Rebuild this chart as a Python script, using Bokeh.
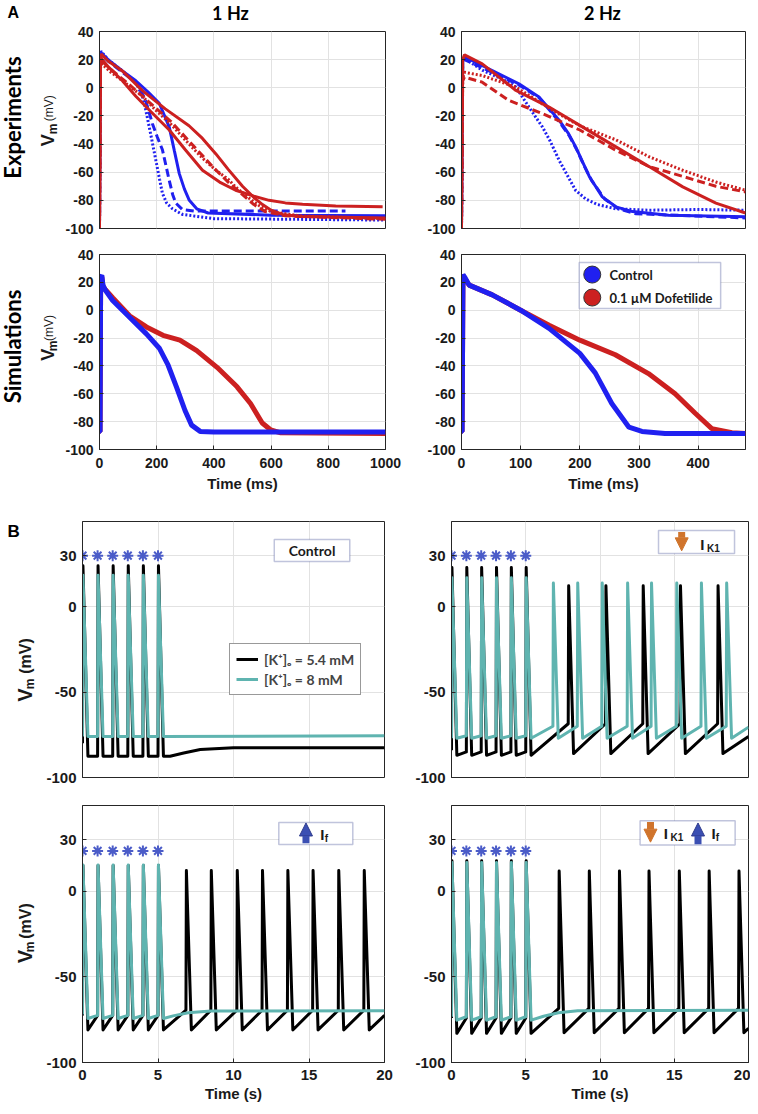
import math
from bokeh.plotting import figure
from bokeh.layouts import column, row
from bokeh.models import (Range1d, FixedTicker, Label, BoxAnnotation, Arrow,
                          NormalHead, Legend, LegendItem)
from bokeh.embed import file_html
from bokeh.resources import INLINE

# ---------------- colours ----------------
BLUE = "#2020f0"
RED = "#cc2020"
TEAL = "#5fb4b0"
BLACK = "#000000"
STAR = "#4b5cc8"
NAVY = "#2e3a8c"
ORANGE = "#d0742c"
ARROWBLUE = "#3b4fb3"

# ---------------- Panel A data (time in ms, Vm in mV) ----------------
# Experiments, 1 Hz
e1_blue_dot_t = [0, 3, 5, 30, 80, 127, 150, 162, 180, 197, 210, 220, 235, 255, 290, 400, 1000]
e1_blue_dot_v = [-100, 20, 26, 20, 12, 4, -6, -16, -34, -51.5, -65, -75, -82, -86, -90, -93, -94]
e1_blue_dash_t = [0, 3, 5, 30, 80, 127, 160, 185, 202, 220, 232, 244, 256, 267, 290, 330, 500, 860]
e1_blue_dash_v = [-100, 18, 24, 19, 11, 4, -8, -25.5, -35, -44, -55, -66, -76, -82, -86.5, -87.5, -87.5, -87.5]
e1_blue_sol_t = [0, 3, 5, 30, 80, 127, 170, 209, 244, 262, 279, 297, 314, 340, 380, 600, 1000]
e1_blue_sol_v = [-100, 20, 25, 20, 12, 5, -3, -11, -28, -45, -61, -72, -80, -86, -89, -90.5, -91]
e1_red_solA_t = [0, 3, 6, 30, 80, 150, 230, 313, 360, 407, 450, 500, 540, 570, 600, 640, 700, 1000]
e1_red_solA_v = [-100, 18, 24, 19, 12, -2, -15, -27, -36, -47, -58, -70, -78, -83, -87, -90, -91.5, -92.5]
e1_red_solB_t = [0, 3, 6, 30, 80, 127, 180, 244, 300, 360, 420, 476, 540, 593, 650, 710, 826, 990]
e1_red_solB_v = [-100, 16, 21, 15, 5, -6, -17, -30, -44, -58.6, -67, -72.8, -77, -80, -81.8, -82.7, -84, -84.6]
e1_red_dot_t = [0, 3, 8, 40, 100, 150, 197, 250, 313, 360, 407, 450, 476, 520, 560, 600, 700, 1000]
e1_red_dot_v = [-100, 14, 17, 11, 2, -6, -16, -26, -40, -50, -58.6, -65, -70.5, -78, -84, -88, -91, -93]
e1_red_dash_t = [0, 3, 8, 40, 100, 150, 200, 250, 300, 350, 400, 450, 500, 540, 580, 650, 1000]
e1_red_dash_v = [-100, 15, 19, 13, 3, -6, -15, -24, -35, -46, -57, -67, -76, -83, -88, -91, -93.5]

# Experiments, 2 Hz
e2_blue_dot_t = [0, 2, 5, 35, 70, 92, 114, 137, 150, 165, 180, 193, 210, 230, 261, 317, 400, 480]
e2_blue_dot_v = [-100, 18, 21, 12.5, 6, 0.5, -13.7, -28, -38, -51.5, -63, -73, -79, -83, -86, -87, -86.5, -87]
e2_blue_sol_t = [0, 2, 5, 52, 97, 131, 165, 180, 193, 205, 216, 238, 261, 289, 350, 480]
e2_blue_sol_v = [-100, 19, 22, 12.3, 2.8, -6.6, -23, -32, -42, -53, -63, -77.5, -84.6, -88, -90.5, -91.7]
e2_blue_dash_t = [0, 2, 5, 52, 97, 131, 165, 182, 196, 208, 220, 242, 265, 295, 480]
e2_blue_dash_v = [-100, 17, 20, 11, 2, -7, -24, -34, -45, -56, -66, -79, -86, -89.5, -92.5]
e2_red_sol_t = [0, 2, 5, 35, 92, 148, 200, 261, 317, 374, 430, 480]
e2_red_sol_v = [-100, 20, 23.4, 17, -1.9, -13.7, -26.7, -42, -56, -70.4, -82, -89]
e2_red_dot_t = [0, 2, 5, 35, 92, 150, 200, 261, 317, 374, 430, 480]
e2_red_dot_v = [-100, 8, 11, 8.7, 0.5, -15, -27, -37, -49, -58.6, -67, -72.8]
e2_red_dash_t = [0, 2, 5, 35, 80, 137, 200, 261, 317, 374, 430, 480]
e2_red_dash_v = [-100, 5, 7.6, 4, -9, -18.4, -30, -44.4, -56, -63, -70, -74]

# Simulations, 1 Hz
s1_ctrl_t = [0, 2, 4, 8, 12, 20, 46, 105, 164, 210, 240, 269, 299, 322, 352, 400, 1000]
s1_ctrl_v = [-87, -87, 24, 25, 18, 14.5, 7, -5, -17, -27.5, -39.5, -55, -72, -82.5, -87, -87.5, -87.5]
s1_dof_t = [0, 2, 4, 8, 12, 20, 46, 105, 164, 222, 281, 340, 411, 481, 528, 569, 599, 634, 1000]
s1_dof_v = [-87, -87, 23, 24, 17, 15, 9, -4, -12, -18, -21.5, -29, -41, -55, -67, -81, -86, -88, -88.5]

# Simulations, 2 Hz
s2_ctrl_t = [0, 1, 2.5, 5, 13, 52, 100, 148, 200, 226, 254, 283, 305, 344, 480]
s2_ctrl_v = [-87, -87, 25.6, 24, 18, 11, 0, -13, -31, -45, -67, -84, -87, -88.5, -88.5]
s2_dof_t = [0, 1, 2.5, 5, 13, 52, 100, 148, 200, 260, 316, 361, 395, 423, 457, 480]
s2_dof_v = [-87, -87, 25, 23, 18, 11, 0, -10.8, -21.5, -32, -45.5, -60, -74, -85, -88, -88.5]

legend_a_labels = ["Control", "0.1 µM Dofetilide"]

# ---------------- Panel B data (time in s, Vm in mV) ----------------
paced_t = [0, 1, 2, 3, 4, 5]

# Control
b1_k54_spk = [0, 1, 2, 3, 4, 5]
b1_k54_peak = [24, 24, 24, 24, 24, 24]
b1_k54_trough = [-87.5, -87.5, -87.5, -87.5, -87.5, -87.5]
b1_k54_pre = [-80, -87.5, -87.5, -87.5, -87.5, -87.5]
b1_k54_tail_t = [5.8, 6.7, 7.8, 10, 20]
b1_k54_tail_v = [-87.5, -85.6, -83.6, -82.6, -82.5]
b1_k8_spk = [0, 1, 2, 3, 4, 5]
b1_k8_peak = [18.5, 18.5, 18.5, 18.5, 18.5, 18.5]
b1_k8_trough = [-76, -76, -76, -76, -76, -76]
b1_k8_pre = [-76, -76, -76, -76, -76, -76]
b1_k8_tail_t = [20]
b1_k8_tail_v = [-75.5]

# down IK1
b2_k54_spk = [0, 1, 2, 3, 4, 5, 7.86, 10.37, 12.88, 15.39, 17.92]
b2_k54_peak = [23, 23, 23, 23, 23, 23, 12.4, 12.4, 12.4, 12.4, 12.4]
b2_k54_trough = [-87, -87, -87, -87, -87, -87, -86, -86, -86, -86, -86]
b2_k54_pre = [-84, -85, -85, -85, -85, -85, -68.5, -68.5, -68.5, -68.5, -68.5]
b2_k54_tail_t = [20]
b2_k54_tail_v = [-76]
b2_k8_spk = [0, 1, 2, 3, 4, 5, 6.83, 8.47, 10.12, 11.83, 13.44, 15.14, 16.8, 18.5]
b2_k8_peak = [17, 17, 17, 17, 17, 17, 14, 14, 14, 14, 14, 14, 14, 14]
b2_k8_trough = [-77, -77, -77, -77, -77, -77, -77, -77, -77, -77, -77, -77, -77, -77]
b2_k8_pre = [-77, -75.5, -75.5, -75.5, -75.5, -75.5, -70, -70, -70, -70, -70, -70, -70, -70]
b2_k8_tail_t = [20]
b2_k8_tail_v = [-70.5]

# up If
b3_k54_spk = [0, 1, 2, 3, 4, 5, 6.85, 8.5, 10.22, 11.89, 13.57, 15.24, 16.94, 18.63]
b3_k54_peak = [15, 15, 15, 15, 15, 15, 12, 12, 12, 12, 12, 12, 12, 12]
b3_k54_trough = [-81, -81, -81, -81, -81, -81, -81, -81, -81, -81, -81, -81, -81, -81]
b3_k54_pre = [-72.5, -72.5, -72.5, -72.5, -72.5, -72.5, -69.5, -69.5, -69.5, -69.5, -69.5, -69.5, -69.5, -69.5]
b3_k54_tail_t = [20]
b3_k54_tail_v = [-72.5]
b3_k8_spk = [0, 1, 2, 3, 4, 5]
b3_k8_peak = [15.2, 15.2, 15.2, 15.2, 15.2, 15.2]
b3_k8_trough = [-74.3, -74.3, -74.3, -74.3, -74.3, -74.3]
b3_k8_pre = [-72, -72.5, -72.5, -72.5, -72.5, -72.5]
b3_k8_tail_t = [6.0, 7.0, 8.5, 20]
b3_k8_tail_v = [-72.8, -71, -70, -69.8]

# down IK1 + up If
b4_k54_spk = [0, 1, 2, 3, 4, 5, 7.22, 9.25, 11.28, 13.27, 15.31, 17.32, 19.33]
b4_k54_peak = [17.7, 17.7, 17.7, 17.7, 17.7, 17.7, 11.8, 11.8, 11.8, 11.8, 11.8, 11.8, 11.8]
b4_k54_trough = [-83, -83, -83, -83, -83, -83, -82.6, -82.6, -82.6, -82.6, -82.6, -82.6, -82.6]
b4_k54_pre = [-74, -74, -74, -74, -74, -74, -68.4, -68.4, -68.4, -68.4, -68.4, -68.4, -68.4]
b4_k54_tail_t = [20]
b4_k54_tail_v = [-80]
b4_k8_spk = [0, 1, 2, 3, 4, 5]
b4_k8_peak = [16.7, 16.7, 16.7, 16.7, 16.7, 16.7]
b4_k8_trough = [-75.3, -75.3, -75.3, -75.3, -75.3, -75.3]
b4_k8_pre = [-73.3, -73.3, -73.3, -73.3, -73.3, -73.3]
b4_k8_tail_t = [6.2, 7.2, 8.5, 20]
b4_k8_tail_v = [-73, -71, -69.8, -69.5]

legend_b_labels = ["[K⁺]ₒ = 5.4 mM", "[K⁺]ₒ = 8 mM"]

TICK_FONT = "Liberation Sans"
TEXT_FONT = "Lato"
UP = math.pi / 2


def spike_train(st, pk, tr, pre, tail_t, tail_v):
    xs, ys = [], []
    for a, b, c, d in zip(st, pk, tr, pre):
        xs += [a, a + 0.03, a + 0.36]
        ys += [d, b, c]
    return xs + list(tail_t), ys + list(tail_v)


def base_fig(xr, yr, xticks, yticks, fw, fh, bl, br, bt, bb, tick_px, xlabels):
    p = figure(frame_width=fw, frame_height=fh, x_range=Range1d(*xr), y_range=Range1d(*yr),
               output_backend="svg", toolbar_location=None, title=None,
               min_border_left=bl, min_border_right=br, min_border_top=bt, min_border_bottom=bb)
    p.xaxis.ticker = FixedTicker(ticks=xticks)
    p.yaxis.ticker = FixedTicker(ticks=yticks)
    p.xgrid.ticker = FixedTicker(ticks=xticks)
    p.ygrid.ticker = FixedTicker(ticks=yticks)
    for ax in list(p.xaxis) + list(p.yaxis):
        ax.major_tick_in = 4
        ax.major_tick_out = 0
        ax.minor_tick_line_color = None
        ax.axis_line_color = "#262626"
        ax.major_tick_line_color = "#262626"
        ax.major_label_text_font = TICK_FONT
        ax.major_label_text_font_style = "bold"
        ax.major_label_text_font_size = tick_px
        ax.major_label_text_color = "#1a1a1a"
    p.yaxis.major_label_standoff = 6
    p.yaxis.major_label_overrides = {t: str(t) for t in yticks}
    p.xaxis.major_label_overrides = {t: str(t) for t in xticks}
    if xlabels:
        p.xaxis.major_label_standoff = 8
    else:
        p.xaxis.visible = False
    p.outline_line_color = "#262626"
    p.outline_line_width = 1
    p.xgrid.grid_line_color = "#e2e2e2"
    p.ygrid.grid_line_color = "#e2e2e2"
    p.background_fill_color = "white"
    p.border_fill_color = "white"
    return p


def text_fig(w, h):
    """A bare canvas whose data units are pixels (y measured upward)."""
    p = figure(width=w, height=h, x_range=Range1d(0, w), y_range=Range1d(0, h),
               output_backend="svg", toolbar_location=None, min_border=0, title=None,
               x_axis_type=None, y_axis_type=None)
    p.outline_line_color = None
    p.background_fill_color = "white"
    p.border_fill_color = "white"
    return p


def dlabel(p, text, x, y, size, font=TEXT_FONT, style="bold", align="left",
           color="#1a1a1a", angle=0.0):
    p.add_layout(Label(x=x, y=y, text=text, text_font=font, text_font_size=size,
                       text_font_style=style, text_align=align, text_baseline="middle",
                       text_color=color, angle=angle))


def vm_label_a(g, y_v, y_m, y_p):
    dlabel(g, "V", 47, y_v, "18px", font=TICK_FONT, angle=UP)
    dlabel(g, "m", 52.5, y_m, "12px", font=TICK_FONT, angle=UP)
    dlabel(g, "(mV)", 48, y_p, "12px", font=TICK_FONT, style="normal", angle=UP)


def vm_label_b(g, y_v, y_m, y_p):
    dlabel(g, "V", 24.5, y_v, "20px", font=TICK_FONT, angle=UP)
    dlabel(g, "m", 29, y_m, "12px", font=TICK_FONT, angle=UP)
    dlabel(g, "(mV)", 25, y_p, "16px", font=TICK_FONT, angle=UP)


A_Y = [-100, -80, -60, -40, -20, 0, 20, 40]
A_X1 = [0, 200, 400, 600, 800, 1000]
A_X2 = [0, 100, 200, 300, 400]
B_Y = [-100, -50, 0, 30]
B_X = [0, 5, 10, 15, 20]

# ---------------- header of panel A ----------------
hdr = text_fig(750, 23)
dlabel(hdr, "A", 7, 11, "16px", font=TICK_FONT, color="#000000")
dlabel(hdr, "1 Hz", 230, 11, "18px", align="center", color="#000000")
dlabel(hdr, "2 Hz", 602, 11, "18px", align="center", color="#000000")

# ---------------- Row 1: experiments ----------------
g1 = text_fig(62, 213)
dlabel(g1, "Experiments", 11.5, 120, "22px", align="center", color="#000000", angle=UP)
vm_label_a(g1, 89, 102, 116)

pa1 = base_fig((0, 1000), (-100, 40), A_X1, A_Y, 286, 197, 35, 22, 8, 8, "14px", False)
pa1.line(e1_blue_dot_t, e1_blue_dot_v, color=BLUE, line_width=3, line_dash="2 2")
pa1.line(e1_blue_dash_t, e1_blue_dash_v, color=BLUE, line_width=3, line_dash="8 4")
pa1.line(e1_blue_sol_t, e1_blue_sol_v, color=BLUE, line_width=3)
pa1.line(e1_red_dot_t, e1_red_dot_v, color=RED, line_width=3, line_dash="2 2")
pa1.line(e1_red_dash_t, e1_red_dash_v, color=RED, line_width=3, line_dash="8 4")
pa1.line(e1_red_solB_t, e1_red_solB_v, color=RED, line_width=3)
pa1.line(e1_red_solA_t, e1_red_solA_v, color=RED, line_width=3)

pa2 = base_fig((0, 480), (-100, 40), A_X2, A_Y, 284, 197, 54, 7, 8, 8, "14px", False)
pa2.line(e2_blue_dot_t, e2_blue_dot_v, color=BLUE, line_width=3, line_dash="2 2")
pa2.line(e2_blue_dash_t, e2_blue_dash_v, color=BLUE, line_width=3, line_dash="8 4")
pa2.line(e2_blue_sol_t, e2_blue_sol_v, color=BLUE, line_width=3)
pa2.line(e2_red_dot_t, e2_red_dot_v, color=RED, line_width=3, line_dash="2 2")
pa2.line(e2_red_dash_t, e2_red_dash_v, color=RED, line_width=3, line_dash="8 4")
pa2.line(e2_red_sol_t, e2_red_sol_v, color=RED, line_width=3)

# ---------------- Row 2: simulations ----------------
g2 = text_fig(62, 264)
dlabel(g2, "Simulations", 11.5, 139.5, "22px", align="center", color="#000000", angle=UP)
vm_label_a(g2, 120, 133, 147)

pa3 = base_fig((0, 1000), (-100, 40), A_X1, A_Y, 286, 195, 35, 22, 18, 51, "14px", True)
pa3.line(s1_dof_t, s1_dof_v, color=RED, line_width=5)
pa3.line(s1_ctrl_t, s1_ctrl_v, color=BLUE, line_width=5)

pa4 = base_fig((0, 480), (-100, 40), A_X2, A_Y, 284, 195, 54, 7, 18, 51, "14px", True)
pa4.line(s2_dof_t, s2_dof_v, color=RED, line_width=5)
pa4.line(s2_ctrl_t, s2_ctrl_v, color=BLUE, line_width=5)
# legend (framed box with round markers)
pa4.add_layout(BoxAnnotation(left=199, right=438, bottom=1.2, top=34.3, fill_color="white",
                             fill_alpha=1, line_color=NAVY, line_width=1.5, level="underlay"))
pa4.scatter([221, 221], [25.6, 9.1], size=17, fill_color=[BLUE, RED], line_color="#333333",
            line_width=1)
dlabel(pa4, legend_a_labels[0], 250, 25.6, "13px")
dlabel(pa4, legend_a_labels[1], 250, 9.1, "13px")

for p in (pa3, pa4):
    p.xaxis.axis_label = "Time (ms)"
    p.xaxis.axis_label_text_font = TICK_FONT
    p.xaxis.axis_label_text_font_style = "bold"
    p.xaxis.axis_label_text_font_size = "15px"
    p.xaxis.axis_label_standoff = 4
    p.xaxis.axis_label_text_color = "#1a1a1a"


# ---------------- Panel B ----------------
def b_fig(left, bt, bb, fh, xlabels):
    if left:
        return base_fig((0, 20), (-100, 50), B_X, B_Y, 302, fh, 40, 16, bt, bb, "15px", xlabels)
    return base_fig((0, 20), (-100, 50), B_X, B_Y, 297, fh, 51, 2, bt, bb, "15px", xlabels)


def draw_traces(p, k54, k8, star_v):
    x, y = spike_train(*k54)
    r1 = p.line(x, y, color=BLACK, line_width=3, line_join="round")
    x, y = spike_train(*k8)
    r2 = p.line(x, y, color=TEAL, line_width=3, line_join="round")
    p.scatter(paced_t, [star_v] * len(paced_t), marker="asterisk", size=11,
              line_color=STAR, line_width=2)
    return r1, r2


def info_box(p, l, r, b, t):
    p.add_layout(BoxAnnotation(left=l, right=r, bottom=b, top=t, fill_color="white",
                               fill_alpha=1, line_color=NAVY, line_width=1.5, level="underlay"))


def arrow(p, x, y0, y1, color, edge):
    p.add_layout(Arrow(end=NormalHead(size=13, fill_color=color, line_color=edge, line_width=1),
                       x_start=x, y_start=y0, x_end=x, y_end=y1, line_color=color,
                       line_width=7))


g3 = text_fig(42, 284)
dlabel(g3, "B", 7, 272.5, "17px", font=TICK_FONT, color="#000000")
vm_label_b(g3, 84, 98, 115)

pb1 = b_fig(True, 21, 7, 256, False)
rb, rc = draw_traces(pb1, (b1_k54_spk, b1_k54_peak, b1_k54_trough, b1_k54_pre, b1_k54_tail_t, b1_k54_tail_v),
                     (b1_k8_spk, b1_k8_peak, b1_k8_trough, b1_k8_pre, b1_k8_tail_t, b1_k8_tail_v), 30)
info_box(pb1, 12.7, 17.7, 26.5, 39.4)
dlabel(pb1, "Control", 15.2, 33, "14px", align="center")
leg = Legend(items=[LegendItem(label=legend_b_labels[0], renderers=[rb]),
                    LegendItem(label=legend_b_labels[1], renderers=[rc])],
             location=(147, 82), margin=0, padding=6, spacing=2,
             label_text_font=TEXT_FONT, label_text_font_style="bold", label_text_font_size="14px",
             label_height=18, glyph_height=18, glyph_width=22, label_standoff=6,
             border_line_color="#333333", border_line_width=1, background_fill_alpha=1)
pb1.add_layout(leg)

pb2 = b_fig(False, 21, 7, 256, False)
draw_traces(pb2, (b2_k54_spk, b2_k54_peak, b2_k54_trough, b2_k54_pre, b2_k54_tail_t, b2_k54_tail_v),
            (b2_k8_spk, b2_k8_peak, b2_k8_trough, b2_k8_pre, b2_k8_tail_t, b2_k8_tail_v), 30)
info_box(pb2, 13.94, 19.06, 31.3, 44.7)
arrow(pb2, 15.5, 43.8, 32.8, ORANGE, ORANGE)
dlabel(pb2, "I", 16.75, 36.8, "15px", font=TICK_FONT)
dlabel(pb2, "K1", 17.2, 34.2, "10px", font=TICK_FONT)

g4 = text_fig(42, 326)
vm_label_b(g4, 126, 140, 157)

pb3 = b_fig(True, 21, 48, 257, True)
draw_traces(pb3, (b3_k54_spk, b3_k54_peak, b3_k54_trough, b3_k54_pre, b3_k54_tail_t, b3_k54_tail_v),
            (b3_k8_spk, b3_k8_peak, b3_k8_trough, b3_k8_pre, b3_k8_tail_t, b3_k8_tail_v), 23.5)
info_box(pb3, 13.0, 17.9, 27.3, 40.1)
arrow(pb3, 14.8, 27.9, 39.8, ARROWBLUE, NAVY)
dlabel(pb3, "I", 15.75, 33.3, "15px", font=TICK_FONT)
dlabel(pb3, "f", 16.05, 30.6, "10px", font=TICK_FONT)

pb4 = b_fig(False, 21, 48, 257, True)
draw_traces(pb4, (b4_k54_spk, b4_k54_peak, b4_k54_trough, b4_k54_pre, b4_k54_tail_t, b4_k54_tail_v),
            (b4_k8_spk, b4_k8_peak, b4_k8_trough, b4_k8_pre, b4_k8_tail_t, b4_k8_tail_v), 23.5)
info_box(pb4, 12.7, 19.1, 26.9, 41.1)
arrow(pb4, 13.4, 40.4, 28.6, ORANGE, ORANGE)
dlabel(pb4, "I", 14.3, 33.6, "15px", font=TICK_FONT)
dlabel(pb4, "K1", 14.75, 31.2, "10px", font=TICK_FONT)
arrow(pb4, 16.6, 27.4, 39.8, ARROWBLUE, NAVY)
dlabel(pb4, "I", 17.5, 33.6, "15px", font=TICK_FONT)
dlabel(pb4, "f", 17.8, 31.2, "10px", font=TICK_FONT)

for p in (pb3, pb4):
    p.xaxis.axis_label = "Time (s)"
    p.xaxis.axis_label_text_font = TICK_FONT
    p.xaxis.axis_label_text_font_style = "bold"
    p.xaxis.axis_label_text_font_size = "15px"
    p.xaxis.axis_label_standoff = 2
    p.xaxis.major_label_standoff = 7
    p.xaxis.axis_label_text_color = "#1a1a1a"

layout = column(hdr,
                row(g1, pa1, pa2),
                row(g2, pa3, pa4),
                row(g3, pb1, pb2),
                row(g4, pb3, pb4))

open("out.html", "w").write(file_html(layout, INLINE))
